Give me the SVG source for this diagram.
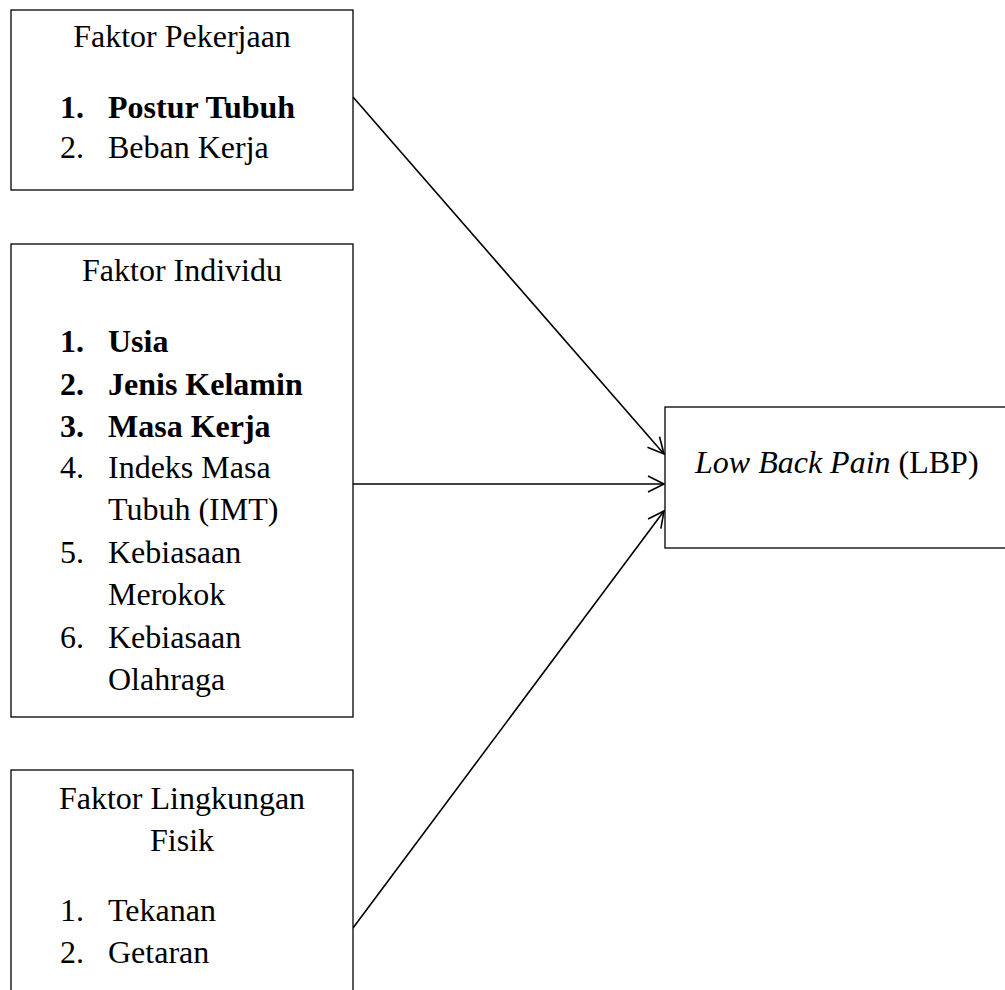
<svg xmlns="http://www.w3.org/2000/svg" width="1005" height="990" viewBox="0 0 1005 990">
<defs>
<style>
text{font-family:"Liberation Serif","Times New Roman",serif;font-size:32px;fill:#000}
.b{font-weight:bold}
.c{text-anchor:middle}
.box{fill:#fff;stroke:#000;stroke-width:1.3}
.con{stroke:#000;stroke-width:1.6;fill:none;marker-end:url(#arr)}
</style>
<marker id="arr" viewBox="0 0 20 20" refX="18" refY="10" markerWidth="20" markerHeight="20" markerUnits="userSpaceOnUse" orient="auto">
<path d="M2,2 L18,10 L2,18" fill="none" stroke="#000" stroke-width="1.6"/>
</marker>
</defs>
<rect width="1005" height="990" fill="#fff"/>
<g id="connectors">
<line class="con" x1="353" y1="97" x2="664" y2="454"/>
<line class="con" x1="353" y1="484" x2="664" y2="484"/>
<line class="con" x1="353" y1="928" x2="664" y2="511"/>
</g>
<g id="faktor-pekerjaan">
<rect class="box" x="11" y="10" width="342" height="180"/>
<text class="c" x="182" y="47">Faktor Pekerjaan</text>
<text class="b" x="60" y="118">1.</text><text class="b" x="108" y="118">Postur Tubuh</text>
<text x="60" y="158">2.</text><text x="108" y="158">Beban Kerja</text>
</g>
<g id="faktor-individu">
<rect class="box" x="11" y="244" width="342" height="473"/>
<text class="c" x="182" y="281">Faktor Individu</text>
<text class="b" x="60" y="352">1.</text><text class="b" x="108" y="352">Usia</text>
<text class="b" x="60" y="395">2.</text><text class="b" x="108" y="395">Jenis Kelamin</text>
<text class="b" x="60" y="437">3.</text><text class="b" x="108" y="437">Masa Kerja</text>
<text x="60" y="478">4.</text><text x="108" y="478">Indeks Masa</text>
<text x="108" y="520">Tubuh (IMT)</text>
<text x="60" y="563">5.</text><text x="108" y="563">Kebiasaan</text>
<text x="108" y="605">Merokok</text>
<text x="60" y="648">6.</text><text x="108" y="648">Kebiasaan</text>
<text x="108" y="690">Olahraga</text>
</g>
<g id="faktor-lingkungan">
<rect class="box" x="11" y="770" width="342" height="240"/>
<text class="c" x="182" y="809">Faktor Lingkungan</text>
<text class="c" x="182" y="851">Fisik</text>
<text x="60" y="921">1.</text><text x="108" y="921">Tekanan</text>
<text x="60" y="963">2.</text><text x="108" y="963">Getaran</text>
</g>
<g id="lbp">
<rect class="box" x="665" y="407" width="360" height="141"/>
<text x="695" y="473"><tspan font-style="italic">Low Back Pain</tspan> (LBP)</text>
</g>
</svg>
